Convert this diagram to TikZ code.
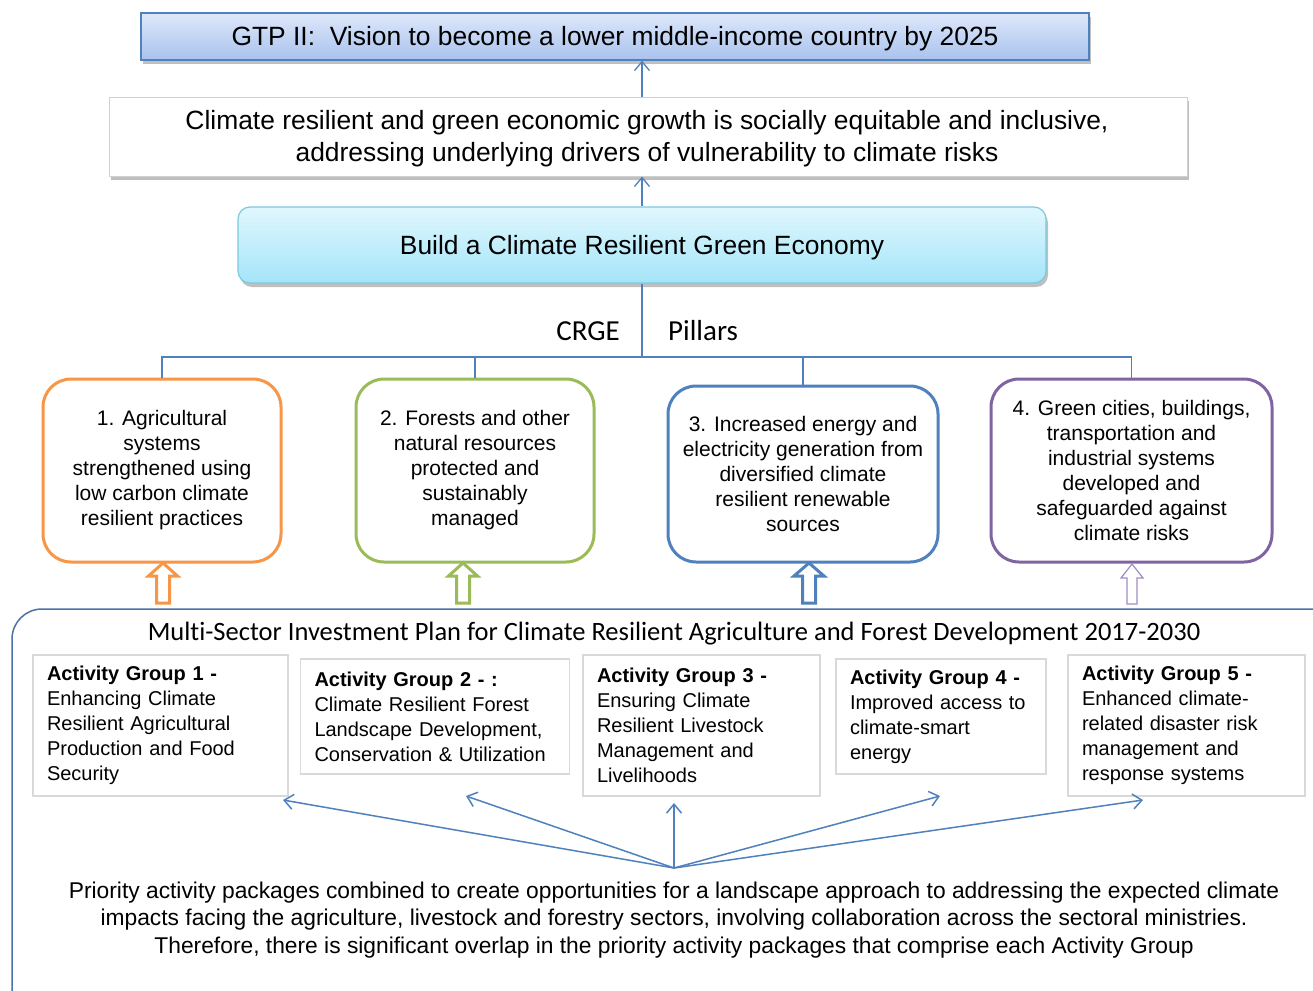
\documentclass[tikz,border=0pt]{standalone}
\usepackage{fontspec}
\setmainfont{Liberation Sans}
\newfontfamily\calib[Ligatures=NoCommon]{Carlito}
\usetikzlibrary{shadows,arrows.meta}
\definecolor{cblue}{HTML}{4F81BD}
\definecolor{bigblue}{HTML}{4A72A8}
\definecolor{agray}{HTML}{D9D9D9}
\definecolor{bgray}{HTML}{D0D0D0}
\definecolor{porange}{HTML}{F79646}
\definecolor{pgreen}{HTML}{9BBB59}
\definecolor{pblue}{HTML}{4F81BD}
\definecolor{ppurple}{HTML}{8064A2}
\definecolor{lpurple}{HTML}{A08CC8}
\definecolor{gtptop}{HTML}{DEE8FA}
\definecolor{gtpbot}{HTML}{A9C2EE}
\definecolor{cytop}{HTML}{E0F7FD}
\definecolor{cybot}{HTML}{A4E5F9}
\definecolor{cyborder}{HTML}{7EC8DD}
\newcommand\hollowarrow[8]{% color, lw, x, ybottom, ytip, yhead, shaft half, head half
  \draw[#1, line width=#2, line join=miter, fill=white]
    (#3-#7,#4) -- (#3-#7,#6) -- (#3-#8,#6) -- (#3,#5) -- (#3+#8,#6) -- (#3+#7,#6) -- (#3+#7,#4) -- cycle;}
\begin{document}
\begin{tikzpicture}[x=1pt,y=-1pt,
  conn/.style={draw=cblue, line width=1.3pt},
  arr/.style={conn, -{Straight Barb[length=9pt,width=15pt]}},
  shadowed/.style={drop shadow={shadow xshift=2pt, shadow yshift=-4pt, fill=black, opacity=0.25}},
  pillar/.style={draw, line width=3pt, rounded corners=28pt, align=center,
    font=\fontsize{21}{25}\selectfont, inner sep=0pt},
  agbox/.style={draw=agray, line width=1.2pt, align=left,
    font=\fontsize{20}{25}\selectfont, inner xsep=14pt, inner ysep=0pt},
  toptext/.style={font=\fontsize{26.4}{32}\selectfont, align=center, inner sep=0pt, yshift=-2.5pt}
]
\clip (0,0) rectangle (1313,990);
\fill[white] (0,0) rectangle (1313,990);

% top boxes
\node[draw=cblue, line width=1.2pt, top color=gtptop, bottom color=gtpbot, shadowed,
  minimum width=948pt, minimum height=47pt] (gtp) at (615,36.5) {};
\node[toptext] (gtptext) at (gtp.center)
  {GTP II:\ \ Vision to become a lower middle-income country by 2025};
\node[draw=bgray, line width=1pt, fill=white, shadowed,
  minimum width=1078pt, minimum height=79pt] (goal) at (648,136.5) {};
\node[toptext] (goaltext) at (647,136.5)
  {Climate resilient and green economic growth is socially equitable and inclusive,\\
   addressing underlying drivers of vulnerability to climate risks};
\node[draw=cyborder, line width=1.2pt, rounded corners=12pt, top color=cytop, bottom color=cybot, shadowed,
  minimum width=808pt, minimum height=76pt] (crge) at (642,245) {};
\node[toptext] (crgetext) at (crge.center) {Build a Climate Resilient Green Economy};

\draw[arr] (goal.north -| crge.north) -- (gtp.south -| crge.north);
\draw[arr] (crge.north) -- (goal.south -| crge.north);

% pillars
\node[pillar, draw=porange, minimum width=238pt, minimum height=183pt] (p1) at (162,470.5)
  {1. Agricultural\\systems\\strengthened using\\low carbon climate\\resilient practices};
\node[pillar, draw=pgreen, minimum width=238pt, minimum height=183pt] (p2) at (475,470.5)
  {2. Forests and other\\natural resources\\protected and\\sustainably\\managed};
\node[pillar, draw=pblue, minimum width=270pt, minimum height=176pt] (p3) at (803,474)
  {3. Increased energy and\\electricity generation from\\diversified climate\\resilient renewable\\sources};
\node[pillar, draw=ppurple, minimum width=281pt, minimum height=183pt] (p4) at (1131.5,470.5)
  {4. Green cities, buildings,\\transportation and\\industrial systems\\developed and\\safeguarded against\\climate risks};

\coordinate (bus) at (642,357);
\draw[conn] (crge.south) -- (bus);
\draw[conn] (p1.north) |- (bus) -| (p4.north);
\draw[conn] (p2.north) -- (p2.north |- bus);
\draw[conn] (p3.north) -- (p3.north |- bus);
\node[font=\calib\fontsize{29}{34}\selectfont, anchor=east, inner sep=0pt] (lcrge) at (620,331) {CRGE};
\node[font=\calib\fontsize{29}{34}\selectfont, anchor=west, inner sep=0pt] (lpil) at (668,331) {Pillars};

% hollow arrows
\hollowarrow{porange}{3pt}{163}{603}{563}{576}{6.5}{14.5}
\hollowarrow{pgreen}{3pt}{463}{603}{563}{576}{6.5}{14.5}
\hollowarrow{pblue}{3pt}{809}{603}{563}{576}{6.5}{15}
\hollowarrow{lpurple}{1.2pt}{1132}{604}{564}{578}{5}{11}

% big box
\draw[bigblue, line width=1.5pt, rounded corners=30pt] (12,609) rectangle (1350,1030);
\node[font=\calib\fontsize{26.5}{30}\selectfont, inner sep=0pt] (msip) at (674,634)
  {Multi-Sector Investment Plan for Climate Resilient Agriculture and Forest Development 2017-2030};

% activity groups
\node[agbox, text width=227pt, minimum height=141pt] (ag1) at (160.5,725.5)
  {\textbf{Activity Group 1 -}\\Enhancing Climate\\Resilient Agricultural\\Production and Food\\Security};
\node[agbox, text width=241pt, minimum height=115pt] (ag2) at (435,716.5)
  {\textbf{Activity Group 2 - :}\\Climate Resilient Forest\\Landscape Development,\\Conservation \& Utilization};
\node[agbox, text width=209pt, minimum height=141pt] (ag3) at (701.5,725.5)
  {\textbf{Activity Group 3 -}\\Ensuring Climate\\Resilient Livestock\\Management and\\Livelihoods};
\node[agbox, text width=182pt, minimum height=115pt] (ag4) at (941,716.5)
  {\textbf{Activity Group 4 -}\\Improved access to\\climate-smart\\energy};
\node[agbox, text width=209pt, minimum height=141pt] (ag5) at (1186.5,725.5)
  {\textbf{Activity Group 5 -}\\Enhanced climate-\\related disaster risk\\management and\\response systems};

\coordinate (hub) at (674,868);
\coordinate (t1) at (283,800);
\coordinate (t2) at (466,796);
\coordinate (t3) at (674,803);
\coordinate (t4) at (940,796);
\coordinate (t5) at (1143,800);
\foreach \t in {t1,t2,t3,t4,t5} \draw[arr, line width=1.5pt] (hub) -- (\t);

\node[font=\fontsize{22.8}{27.5}\selectfont, align=center, inner sep=0pt] (note) at (674,920)
  {Priority activity packages combined to create opportunities for a landscape approach to addressing the expected climate\\
   impacts facing the agriculture, livestock and forestry sectors, involving collaboration across the sectoral ministries.\\
   Therefore, there is significant overlap in the priority activity packages that comprise each Activity Group};
\end{tikzpicture}
\end{document}
